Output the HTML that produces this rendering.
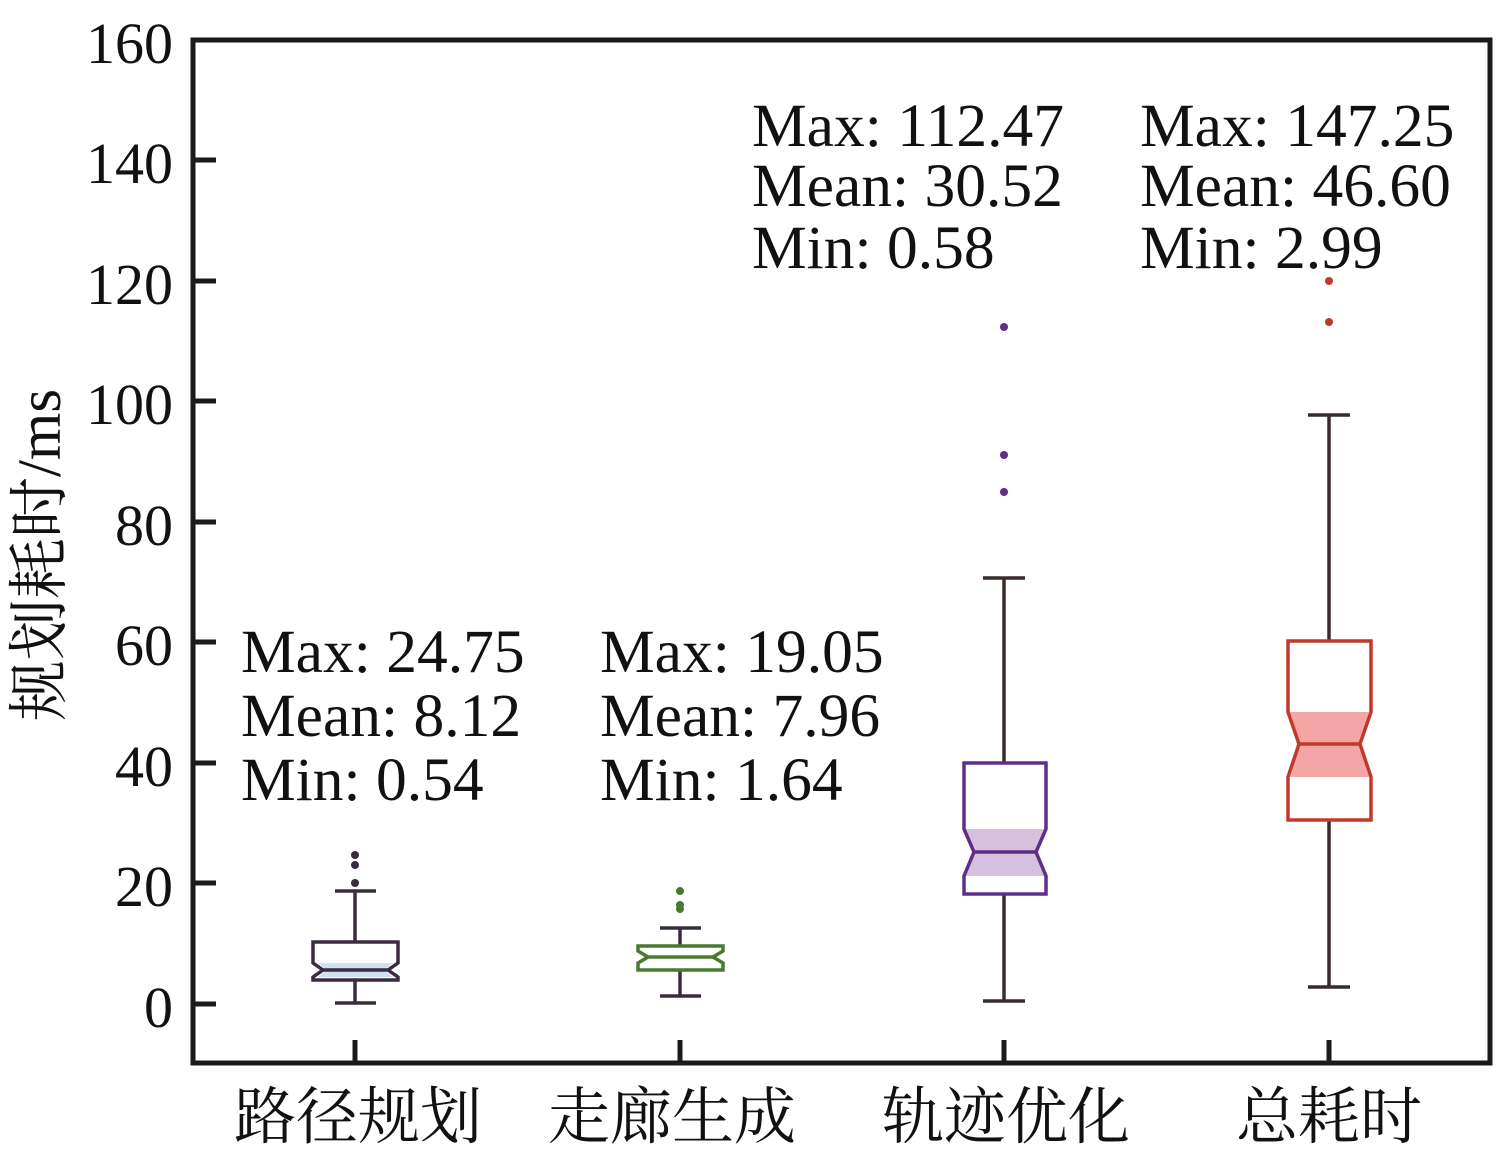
<!DOCTYPE html>
<html><head><meta charset="utf-8"><style>body{margin:0;background:#fff}svg{display:block}</style></head>
<body>
<svg width="1505" height="1156" viewBox="0 0 1505 1156" xmlns="http://www.w3.org/2000/svg">
<g font-family="'Liberation Serif','Noto Serif CJK SC',serif" fill="#111">
<g font-size="58" text-anchor="end">
<text x="173" y="63">160</text>
<text x="173" y="183">140</text>
<text x="173" y="304">120</text>
<text x="173" y="424">100</text>
<text x="173" y="545">80</text>
<text x="173" y="665">60</text>
<text x="173" y="786">40</text>
<text x="173" y="906">20</text>
<text x="173" y="1027">0</text>
</g>
<text transform="translate(60,555) rotate(-90)" font-size="61" text-anchor="middle">规划耗时/ms</text>
<g font-size="62" text-anchor="middle">
<text x="358" y="1138">路径规划</text>
<text x="672" y="1138">走廊生成</text>
<text x="1006" y="1138">轨迹优化</text>
<text x="1329" y="1138">总耗时</text>
</g>
<g font-size="61.5">
<text x="241" y="672">Max: 24.75</text>
<text x="241" y="736">Mean: 8.12</text>
<text x="241" y="800">Min: 0.54</text>
<text x="600" y="672">Max: 19.05</text>
<text x="600" y="736">Mean: 7.96</text>
<text x="600" y="800">Min: 1.64</text>
<text x="752" y="146">Max: 112.47</text>
<text x="752" y="206">Mean: 30.52</text>
<text x="752" y="268">Min: 0.58</text>
<text x="1140" y="146">Max: 147.25</text>
<text x="1140" y="206">Mean: 46.60</text>
<text x="1140" y="268">Min: 2.99</text>
</g>
</g>
<rect x="193" y="40" width="1297" height="1023" fill="none" stroke="#1a1a1a" stroke-width="5"/>
<g stroke="#1a1a1a" stroke-width="5">
<line x1="193" y1="160" x2="216" y2="160"/>
<line x1="193" y1="281" x2="216" y2="281"/>
<line x1="193" y1="401" x2="216" y2="401"/>
<line x1="193" y1="522" x2="216" y2="522"/>
<line x1="193" y1="642" x2="216" y2="642"/>
<line x1="193" y1="763" x2="216" y2="763"/>
<line x1="193" y1="883" x2="216" y2="883"/>
<line x1="193" y1="1004" x2="216" y2="1004"/>
<line x1="355" y1="1040" x2="355" y2="1063"/>
<line x1="680" y1="1040" x2="680" y2="1063"/>
<line x1="1004" y1="1040" x2="1004" y2="1063"/>
<line x1="1329" y1="1040" x2="1329" y2="1063"/>
</g>
<g stroke="#3a2c3e" stroke-width="3.5">
<line x1="355" y1="891" x2="355" y2="942"/><line x1="335" y1="891" x2="376" y2="891"/>
<line x1="355" y1="980" x2="355" y2="1003"/><line x1="335" y1="1003" x2="376" y2="1003"/>
</g>
<polygon points="318,963 393,963 384,970 393,977 318,977 327,970" fill="#cfe0ee"/>
<path d="M313,942 H398 V963 L388,970 L398,977 V980 H313 V977 L323,970 L313,963 Z" fill="none" stroke="#3a2c3e" stroke-width="3.5"/>
<line x1="323" y1="970" x2="388" y2="970" stroke="#3a2c3e" stroke-width="3.5"/>
<g fill="#3a2c3e"><circle cx="355" cy="855" r="4"/><circle cx="355" cy="865" r="4"/><circle cx="355" cy="883" r="4"/></g>
<g stroke="#3a2c3e" stroke-width="3.5">
<line x1="680" y1="928" x2="680" y2="946"/><line x1="660" y1="928" x2="701" y2="928"/>
<line x1="680" y1="970" x2="680" y2="996"/><line x1="660" y1="996" x2="701" y2="996"/>
</g>
<path d="M638,946 H723 V951 L713,957 L723,963 V970 H638 V963 L648,957 L638,951 Z" fill="#fff" stroke="#4a7a30" stroke-width="3.5"/>
<line x1="648" y1="957" x2="713" y2="957" stroke="#4a7a30" stroke-width="3.5"/>
<g fill="#4a7a30"><circle cx="680" cy="891" r="4"/><circle cx="680" cy="905" r="4"/><circle cx="680" cy="909" r="4"/></g>
<g stroke="#3a2c2c" stroke-width="3.5">
<line x1="1004" y1="578" x2="1004" y2="763"/><line x1="983" y1="578" x2="1025" y2="578"/>
<line x1="1004" y1="894" x2="1004" y2="1001"/><line x1="983" y1="1001" x2="1025" y2="1001"/>
</g>
<polygon points="966,829 1044,829 1036,852 1044,876 966,876 974,852" fill="#d5c1dd"/>
<path d="M964,763 H1046 V829 L1036,852 L1046,876 V894 H964 V876 L974,852 L964,829 Z" fill="none" stroke="#5e2f88" stroke-width="3.5"/>
<line x1="974" y1="852" x2="1036" y2="852" stroke="#5e2f88" stroke-width="3.5"/>
<g fill="#5e2f88"><circle cx="1004" cy="327" r="4"/><circle cx="1004" cy="455" r="4"/><circle cx="1004" cy="492" r="4"/></g>
<g stroke="#3a2c2c" stroke-width="3.5">
<line x1="1329" y1="415" x2="1329" y2="641"/><line x1="1308" y1="415" x2="1350" y2="415"/>
<line x1="1329" y1="820" x2="1329" y2="987"/><line x1="1308" y1="987" x2="1350" y2="987"/>
</g>
<polygon points="1290,712 1369,712 1359,744 1369,777 1290,777 1300,744" fill="#f4a6a6"/>
<path d="M1288,641 H1371 V712 L1360,744 L1371,777 V820 H1288 V777 L1299,744 L1288,712 Z" fill="none" stroke="#bf3a2a" stroke-width="3.5"/>
<line x1="1299" y1="744" x2="1360" y2="744" stroke="#bf3a2a" stroke-width="3.5"/>
<g fill="#bf3a2a"><circle cx="1329" cy="281" r="4"/><circle cx="1329" cy="322" r="4"/></g>
</svg>
</body></html>
